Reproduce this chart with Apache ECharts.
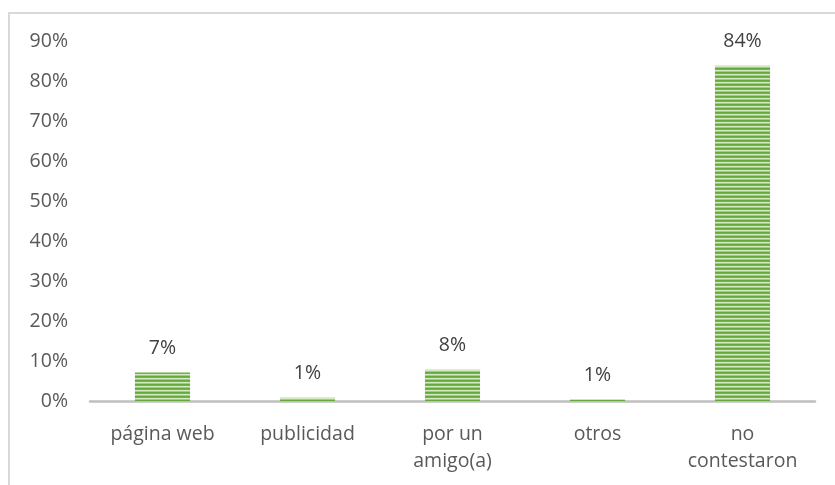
<!DOCTYPE html>
<html>
<head>
<meta charset="utf-8">
<script src="https://cdn.jsdelivr.net/npm/echarts@6/dist/echarts.min.js"></script>
<style>
html,body{margin:0;padding:0;background:#fff;}
#frame{position:absolute;left:8px;top:12px;width:900px;height:600px;border-top:2px solid #d9d9d9;border-left:2px solid #d9d9d9;}
#chart{position:absolute;left:0;top:0;width:835px;height:485px;}
</style>
</head>
<body>
<div id="frame"></div>
<div id="chart"></div>
<script>
const categories = ['página web', 'publicidad', 'por un\namigo(a)', 'otros', 'no\ncontestaron'];
const values = [7.1, 0.8, 7.8, 0.4, 83.8];
const yTicks = [0, 10, 20, 30, 40, 50, 60, 70, 80, 90];

const cv = document.createElement('canvas');
cv.width = 4; cv.height = 4;
const cx = cv.getContext('2d');
const rows = ['#66A93B', '#74B34A', '#D3EAC4', '#A0CC83'];
rows.forEach((c, i) => { cx.fillStyle = c; cx.fillRect(0, i, 4, 1); });

const FONT = 'Open Sans';
const chart = echarts.init(document.getElementById('chart'), null, {renderer: 'canvas'});
chart.setOption({
  animation: false,
  backgroundColor: 'transparent',
  grid: {left: 90, right: 20, top: 41, bottom: 84, containLabel: false},
  xAxis: {
    type: 'category',
    data: categories,
    axisLine: {lineStyle: {color: '#BFBFBF', width: 2.5}},
    axisTick: {show: false},
    axisLabel: {color: '#595959', fontSize: 19.5, fontFamily: FONT, margin: 20, lineHeight: 27}
  },
  yAxis: {
    type: 'value',
    min: yTicks[0],
    max: yTicks[yTicks.length - 1],
    interval: 10,
    splitLine: {show: false},
    axisLine: {show: false},
    axisTick: {show: false},
    axisLabel: {color: '#595959', fontSize: 19.5, fontFamily: FONT, margin: 22, formatter: v => v + '%'}
  },
  series: [{
    type: 'bar',
    data: values,
    barWidth: '38%',
    itemStyle: {color: {image: cv, repeat: 'repeat'}},
    label: {
      show: true, position: 'top', distance: 14,
      color: '#404040', fontSize: 19.5, fontFamily: FONT,
      formatter: p => Math.max(1, Math.round(p.value)) + '%'
    }
  }]
});
</script>
</body>
</html>
